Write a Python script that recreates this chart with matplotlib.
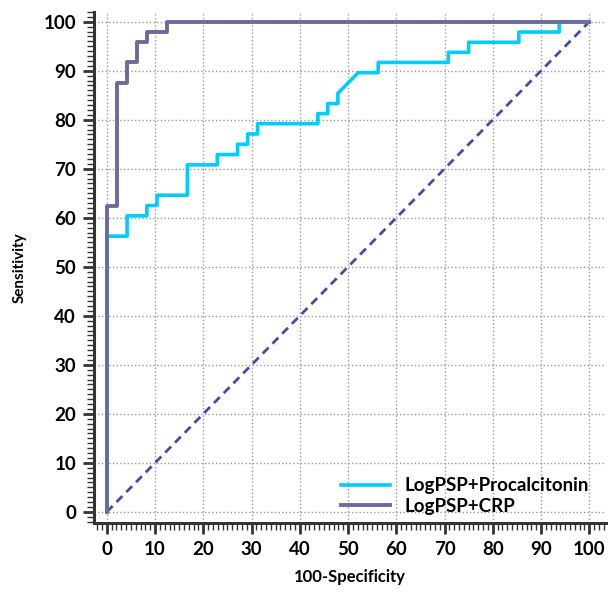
import matplotlib.pyplot as plt
from matplotlib.ticker import MultipleLocator

plt.rcParams['font.family'] = ['Lato', 'DejaVu Sans']

# ROC points (100-specificity, sensitivity)
pct_x = [0, 0, 4.2, 4.2, 8.3, 8.3, 10.4, 10.4, 16.7, 16.7, 22.9, 22.9, 27.1, 27.1,
         29.2, 29.2, 31.25, 31.25, 43.75, 43.75, 45.8, 45.8, 47.9, 47.9, 52.1,
         56.25, 56.25, 70.8, 70.8, 75.0, 75.0, 85.4, 85.4, 93.75, 93.75, 100]
pct_y = [0, 56.25, 56.25, 60.4, 60.4, 62.5, 62.5, 64.6, 64.6, 70.8, 70.8, 72.9, 72.9, 75.0,
         75.0, 77.1, 77.1, 79.2, 79.2, 81.25, 81.25, 83.3, 83.3, 85.4, 89.6,
         89.6, 91.7, 91.7, 93.75, 93.75, 95.8, 95.8, 97.9, 97.9, 100, 100]

crp_x = [0, 0, 2.1, 2.1, 4.2, 4.2, 6.25, 6.25, 8.3, 8.3, 12.5, 12.5, 100]
crp_y = [0, 62.5, 62.5, 87.5, 87.5, 91.7, 91.7, 95.8, 95.8, 97.9, 97.9, 100, 100]

diag = [0, 100]
ticks = list(range(0, 101, 10))

fig = plt.figure(figsize=(6.08, 5.96), dpi=100)
ax = fig.add_axes([0.155, 0.123, 0.842, 0.857])

ax.plot(diag, diag, color='#4a4aa8', lw=2, ls=(0, (3, 2)), zorder=2)
ax.plot(pct_x, pct_y, color='#00ccff', lw=2.6, label='LogPSP+Procalcitonin', zorder=3)
ax.plot(crp_x, crp_y, color='#6b6b9e', lw=2.8, label='LogPSP+CRP', zorder=4)

ax.set_xlim(-2.6, 103.5)
ax.set_ylim(-2.2, 102)
ax.set_xticks(ticks)
ax.set_yticks(ticks)
ax.xaxis.set_minor_locator(MultipleLocator(1))
ax.yaxis.set_minor_locator(MultipleLocator(1))
ax.grid(True, which='major', ls=':', color='#999999', lw=1)
ax.set_axisbelow(True)

for s in ['top', 'right']:
    ax.spines[s].set_visible(False)
for s in ['left', 'bottom']:
    ax.spines[s].set_linewidth(2.2)
    ax.spines[s].set_color('#333333')
ax.tick_params(which='major', direction='out', length=8, width=2, color='#333333',
               labelsize=13.5, pad=5)
ax.tick_params(which='minor', direction='out', length=5, width=1, color='#333333')
for lab in ax.get_xticklabels() + ax.get_yticklabels():
    lab.set_fontweight('bold')

ax.set_xlabel('100-Specificity', fontsize=12, fontweight='bold', labelpad=8)
ax.set_ylabel('Sensitivity', fontsize=11, fontweight='bold', labelpad=12)

ax.legend(loc='lower right', bbox_to_anchor=(1.0, -0.018), frameon=False,
          handlelength=2.6, labelspacing=0.2, prop={'weight': 'bold', 'size': 13.5})

fig.savefig('out.png', dpi=100)
